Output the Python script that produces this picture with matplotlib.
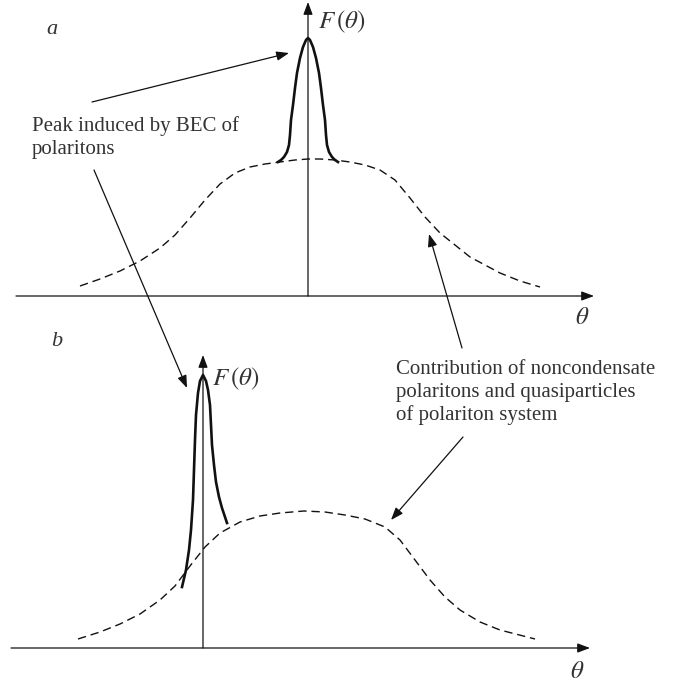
import matplotlib
matplotlib.use("Agg")
import matplotlib.pyplot as plt

plt.rcParams['font.family'] = ['Liberation Serif', 'DejaVu Serif']
plt.rcParams['mathtext.fontset'] = 'stix'

# panel a: narrow BEC peak on top of broad noncondensate background (theta, F)
peak_a_theta = [-30, -27, -24, -21, -19, -18, -17, -15, -13, -11, -8, -5, -2, 0,
                2, 5, 8, 11, 13, 15, 17, 18, 19, 21, 24, 27, 30]
peak_a_F = [134, 136, 139, 144, 151, 161, 176, 191, 208, 223, 238, 249, 256, 258,
            256, 249, 238, 223, 208, 191, 176, 161, 151, 144, 139, 136, 134]
back_a_theta = [-228, -208, -188, -168, -148, -133, -118, -103, -88, -73, -58, -43, -28, -13,
                0, 12, 27, 42, 57, 72, 87, 102, 117, 132, 147, 162, 192, 212, 232]
back_a_F = [10, 17, 25, 35, 48, 61, 78, 96, 112, 123, 129, 132, 134, 136,
            137, 137, 136, 134, 131, 126, 116, 98, 79, 63, 51, 39, 23, 15, 9]

# panel b: peak shifted off the background maximum
peak_b_theta = [-21, -17, -14, -12, -10, -9, -8, -7, -5, -3, 0,
                3, 5, 7, 8, 9, 11, 13, 16, 19, 24]
peak_b_F = [61, 78, 98, 118, 148, 178, 208, 233, 255, 267, 273,
            267, 258, 243, 223, 203, 183, 166, 151, 140, 125]
back_b_theta = [-125, -103, -83, -63, -43, -28, -13, 2, 17, 37, 57, 77, 101, 122,
                142, 162, 182, 197, 212, 227, 242, 257, 277, 297, 332]
back_b_F = [9, 16, 24, 34, 48, 62, 82, 101, 115, 126, 132, 135, 137, 136,
            133, 129, 121, 108, 88, 68, 51, 38, 26, 18, 9]

peak_text = ["Peak induced by BEC of", "polaritons"]
contrib_text = ["Contribution of noncondensate", "polaritons and quasiparticles",
                "of polariton system"]

fig = plt.figure(figsize=(6.79, 6.84), dpi=100)
ax = fig.add_axes([0, 0, 1, 1])
ax.set_xlim(0, 679)
ax.set_ylim(684, 0)
ax.axis('off')

ink = '#111111'
txt = '#333333'


def arrow(x1, y1, x2, y2, lw=0.9):
    ax.annotate('', xy=(x2, y2), xytext=(x1, y1),
                arrowprops=dict(arrowstyle='-|>,head_length=0.75,head_width=0.28',
                                lw=lw, color=ink, shrinkA=0, shrinkB=0))


def draw_panel(x0, y0, xleft, xright, ytop, peak_t, peak_f, back_t, back_f):
    # axes with arrow heads
    arrow(x0 + xleft, y0, x0 + xright, y0)
    arrow(x0, y0, x0, y0 - ytop)
    ax.plot([x0 + t for t in back_t], [y0 - f for f in back_f],
            color=ink, lw=1.0, linestyle=(0, (6, 3.5)))
    ax.plot([x0 + t for t in peak_t], [y0 - f for f in peak_f],
            color=ink, lw=1.9, solid_joinstyle='round')


draw_panel(308, 296, -292, 286, 294, peak_a_theta, peak_a_F, back_a_theta, back_a_F)
draw_panel(203, 648, -192, 387, 293, peak_b_theta, peak_b_F, back_b_theta, back_b_F)

# labels
ax.text(318, 28, r'$F\,(\theta)$', fontsize=18, color=txt, va='baseline')
ax.text(212, 385, r'$F\,(\theta)$', fontsize=18, color=txt, va='baseline')
ax.text(582, 318, r'$\theta$', fontsize=18, color=txt, ha='center', va='center')
ax.text(577, 672, r'$\theta$', fontsize=18, color=txt, ha='center', va='center')
ax.text(52, 30, 'a', fontsize=16, style='italic', color=txt, ha='center', va='center')
ax.text(57, 342, 'b', fontsize=16, style='italic', color=txt, ha='center', va='center')

for i, line in enumerate(peak_text):
    ax.text(32, 131 + 23 * i, line, fontsize=15, color=txt, va='baseline')
for i, line in enumerate(contrib_text):
    ax.text(396, 374 + 23 * i, line, fontsize=15, color=txt, va='baseline')

# annotation arrows
arrow(92, 102, 289, 53)
arrow(94, 170, 187, 388)
arrow(462, 348, 429, 234)
arrow(463, 437, 391, 520)

fig.savefig('out.png', dpi=100)
